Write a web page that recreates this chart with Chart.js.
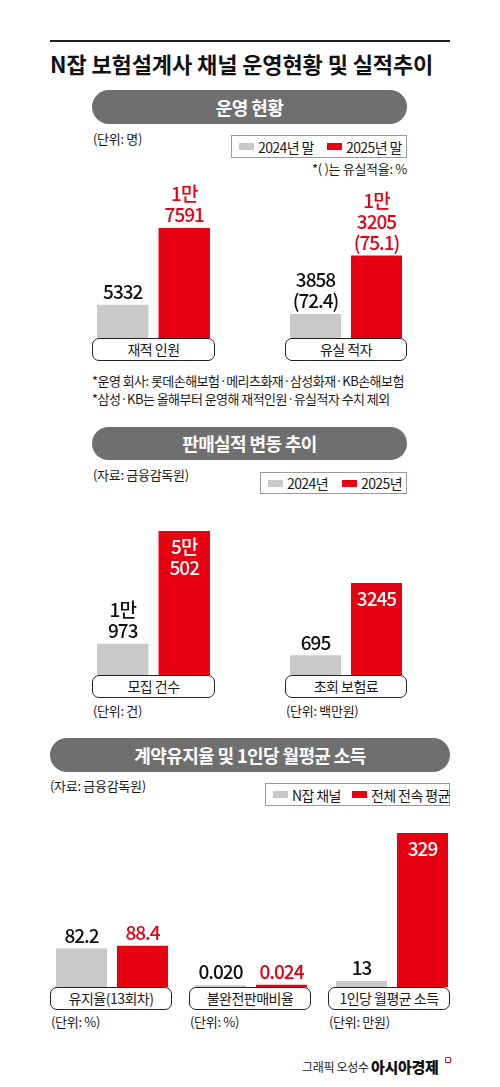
<!DOCTYPE html>
<html>
<head>
<meta charset="utf-8">
<script src="https://cdn.jsdelivr.net/npm/chart.js@4.4.1/dist/chart.umd.min.js"></script>
<style>
  html, body { margin: 0; padding: 0; background: #fff; }
  body { width: 500px; height: 1087px; position: relative; overflow: hidden;
         font-family: 'Noto Sans CJK KR', 'Noto Sans', sans-serif; color: #1a1a1a; }
  .abs { position: absolute; white-space: pre; }
  .pill { position: absolute; background: #6f6f6f; color: #fff; font-weight: 700;
          text-align: center; border-radius: 17px; letter-spacing: -0.6px; }
  .lbox { position: absolute; box-sizing: border-box; border: 1.5px solid #222; border-radius: 7px;
          background: #fff; text-align: center; font-size: 14px; letter-spacing: -0.5px; }
  .legend { position: absolute; box-sizing: border-box; border: 1px solid #9a9a9a; background: #fff; }
  .sw { position: absolute; height: 7px; width: 15px; }
  canvas { position: absolute; }
</style>
</head>
<body>
<script>
// ---------------- DATA ----------------
const title = 'N잡 보험설계사 채널 운영현황 및 실적추이';

const s1Title = '운영 현황';
const s1Series = ['2024년 말', '2025년 말'];
const s1Categories = ['재적 인원', '유실 적자'];
const s1Values2024 = [5332, 3858];
const s1Values2025 = [17591, 13205];
const s1Rates2024 = [null, 72.4];
const s1Rates2025 = [null, 75.1];
const s1Notes = ['*운영 회사: 롯데손해보험·메리츠화재·삼성화재·KB손해보험',
                 '*삼성·KB는 올해부터 운영해 재적인원·유실적자 수치 제외'];

const s2Title = '판매실적 변동 추이';
const s2Series = ['2024년', '2025년'];
const s2Categories = ['모집 건수', '초회 보험료'];
const s2Values2024 = [10973, 695];
const s2Values2025 = [50502, 3245];
const s2Units = ['(단위: 건)', '(단위: 백만원)'];

const s3Title = '계약유지율 및 1인당 월평균 소득';
const s3Series = ['N잡 채널', '전체 전속 평균'];
const s3Categories = ['유지율(13회차)', '불완전판매비율', '1인당 월평균 소득'];
const s3NJob = [82.2, 0.020, 13];
const s3Average = [88.4, 0.024, 329];
const s3Decimals = [1, 3, 0];
const s3Units = ['(단위: %)', '(단위: %)', '(단위: 만원)'];

// ---------------- STYLE ----------------
const GRAY = '#c9c9c9';
const RED = '#e60012';
const FONT = "'Noto Sans CJK KR', 'Noto Sans', sans-serif";

// ---------------- HELPERS ----------------
function text(str, x, cy, size, opts = {}) {
  const d = document.createElement('div');
  d.className = 'abs';
  d.textContent = str;
  const h = Math.round(size * 1.4);
  d.style.top = (cy - h / 2) + 'px';
  d.style.height = h + 'px';
  d.style.lineHeight = h + 'px';
  d.style.fontSize = size + 'px';
  if (opts.right !== undefined) d.style.right = (500 - opts.right) + 'px';
  else d.style.left = x + 'px';
  d.style.fontWeight = opts.weight || 400;
  d.style.letterSpacing = (opts.ls !== undefined ? opts.ls : -0.5) + 'px';
  if (opts.color) d.style.color = opts.color;
  document.body.appendChild(d);
  return d;
}
function pill(str, x1, x2, y1, y2, size) {
  const d = document.createElement('div');
  d.className = 'pill';
  d.textContent = str;
  Object.assign(d.style, { left: x1 + 'px', width: (x2 - x1) + 'px', top: y1 + 'px',
    height: (y2 - y1) + 'px', lineHeight: (y2 - y1) + 'px', fontSize: size + 'px' });
  document.body.appendChild(d);
}
function labelBox(str, x1, x2, y1) {
  const d = document.createElement('div');
  d.className = 'lbox';
  d.textContent = str;
  Object.assign(d.style, { left: x1 + 'px', width: (x2 - x1) + 'px', top: y1 + 'px',
    height: '23px', lineHeight: '20px' });
  document.body.appendChild(d);
}
function legend(names, x1, x2, y1, y2, pos) {
  const b = document.createElement('div');
  b.className = 'legend';
  Object.assign(b.style, { left: x1 + 'px', width: (x2 - x1) + 'px', top: y1 + 'px', height: (y2 - y1) + 'px' });
  document.body.appendChild(b);
  const cy = (y1 + y2) / 2;
  [GRAY, RED].forEach((c, i) => {
    const s = document.createElement('div');
    s.className = 'sw';
    Object.assign(s.style, { left: pos[i] + 'px', top: (cy - 3.5) + 'px', background: c });
    document.body.appendChild(s);
    text(names[i], pos[i] + 19, cy, 14, { ls: -0.6 });
  });
}
function krLines(v) {
  if (v >= 10000) return [Math.floor(v / 10000) + '만', String(v % 10000)];
  return [String(v)];
}

// value label plugin
const valueLabels = {
  id: 'valueLabels',
  afterDatasetsDraw(chart, args, o) {
    const ctx = chart.ctx;
    ctx.save();
    ctx.font = '500 19px ' + FONT;
    ctx.letterSpacing = '-1px';
    ctx.textAlign = 'center';
    ctx.textBaseline = 'middle';
    chart.data.datasets.forEach((ds, di) => {
      const el = chart.getDatasetMeta(di).data[0];
      const lines = o.lines[di];
      const h = el.base - el.y;
      const inside = di === 1 && h > o.insideMin;
      if (inside) {
        ctx.fillStyle = '#fff';
        lines.forEach((l, k) => ctx.fillText(l, el.x, el.y + 16 + k * 21));
      } else {
        ctx.fillStyle = di === 0 ? '#111' : o.redText;
        const n = lines.length;
        lines.forEach((l, k) => ctx.fillText(l, el.x, el.y - 13 - (n - 1 - k) * 21));
      }
    });
    ctx.restore();
  }
};

function groupChart(left, width, top, baseline, v1, v2, max, lines, insideMin, redText) {
  const c = document.createElement('canvas');
  c.width = width; c.height = baseline - top;
  c.style.left = left + 'px'; c.style.top = top + 'px';
  document.body.appendChild(c);
  new Chart(c, {
    type: 'bar',
    data: { labels: [''], datasets: [
      { data: [v1], backgroundColor: GRAY, borderWidth: 0 },
      { data: [v2], backgroundColor: RED, borderWidth: 0 }
    ]},
    options: {
      responsive: false, animation: false, events: [],
      layout: { padding: 0 },
      datasets: { bar: { categoryPercentage: 1, barPercentage: 0.836 } },
      scales: { x: { display: false }, y: { display: false, min: 0, max: max } },
      plugins: { legend: { display: false }, tooltip: { enabled: false },
                 valueLabels: { lines, insideMin, redText } }
    },
    plugins: [valueLabels]
  });
}

// ---------------- HEADER ----------------
const rule = document.createElement('div');
Object.assign(rule.style, { position: 'absolute', left: '50px', width: '400px', top: '40px', height: '2px', background: '#222' });
document.body.appendChild(rule);
text(title, 50, 63, 22, { weight: 700, ls: -0.1, color: '#111' });

// ---------------- SECTION 1 ----------------
pill(s1Title, 92, 407, 90, 124, 18);
text('(단위: 명)', 93, 139, 13, { ls: -0.3 });
legend(s1Series, 231, 407, 135, 158, [239, 327]);
text('*( )는 유실적율: %', 0, 169, 13, { right: 407, ls: -0.3 });
const s1Boxes = [[92, 215], [285, 407]];
s1Categories.forEach((cat, i) => {
  const l1 = krLines(s1Values2024[i]);
  if (s1Rates2024[i] !== null) l1.push('(' + s1Rates2024[i].toFixed(1) + ')');
  const l2 = krLines(s1Values2025[i]);
  if (s1Rates2025[i] !== null) l2.push('(' + s1Rates2025[i].toFixed(1) + ')');
  const [x1, x2] = s1Boxes[i];
  groupChart(x1, x2 - x1, 172, 338, s1Values2024[i], s1Values2025[i], 166 / 0.00625, [l1, l2], Infinity, RED);
  labelBox(cat, x1, x2, 338);
});
text(s1Notes[0], 92, 381, 13, { ls: -0.55 });
text(s1Notes[1], 92, 399, 13, { ls: -0.55 });

// ---------------- SECTION 2 ----------------
pill(s2Title, 92, 407, 427, 460, 18);
text('(자료: 금융감독원)', 93, 475, 13, { ls: -0.3 });
legend(s2Series, 260, 407, 472, 494, [268, 342]);
const s2Boxes = [[92, 215], [285, 407]];
const s2Scale = [0.00285, 0.02835];
s2Categories.forEach((cat, i) => {
  const [x1, x2] = s2Boxes[i];
  groupChart(x1, x2 - x1, 500, 675, s2Values2024[i], s2Values2025[i], 175 / s2Scale[i],
    [krLines(s2Values2024[i]), krLines(s2Values2025[i])], 60, RED);
  labelBox(cat, x1, x2, 675);
  text(s2Units[i], x1 + 1, 711, 13, { ls: -0.3 });
});

// ---------------- SECTION 3 ----------------
pill(s3Title, 50, 450, 738, 772, 18);
text('(자료: 금융감독원)', 50, 786, 13, { ls: -0.3 });
legend(s3Series, 265, 450, 783, 806, [273, 352]);
const s3Boxes = [[50, 172], [189, 311], [328, 450]];
const s3Shift = [1, 1, 3];
const s3Scale = [0.468, 2.2 / 0.024, 0.468];
s3Categories.forEach((cat, i) => {
  const [x1, x2] = s3Boxes[i];
  const d = s3Decimals[i];
  groupChart(x1 + s3Shift[i], x2 - x1, 815, 987, s3NJob[i], s3Average[i], 172 / s3Scale[i],
    [[s3NJob[i].toFixed(d)], [s3Average[i].toFixed(d)]], 60, RED);
  labelBox(cat, x1, x2, 987);
  text(s3Units[i], x1 + 1, 1022, 13, { ls: -0.3 });
});

// ---------------- FOOTER ----------------
text('그래픽 오성수', 302, 1066, 12, { ls: -0.3 });
text('아시아경제', 371, 1066, 15, { weight: 900, ls: -0.3, color: '#111' });
const mark = document.createElement('div');
Object.assign(mark.style, { position: 'absolute', left: '445px', top: '1057px', width: '4px', height: '4px',
  border: '1.5px solid ' + RED, borderRadius: '1px' });
document.body.appendChild(mark);
</script>
</body>
</html>
